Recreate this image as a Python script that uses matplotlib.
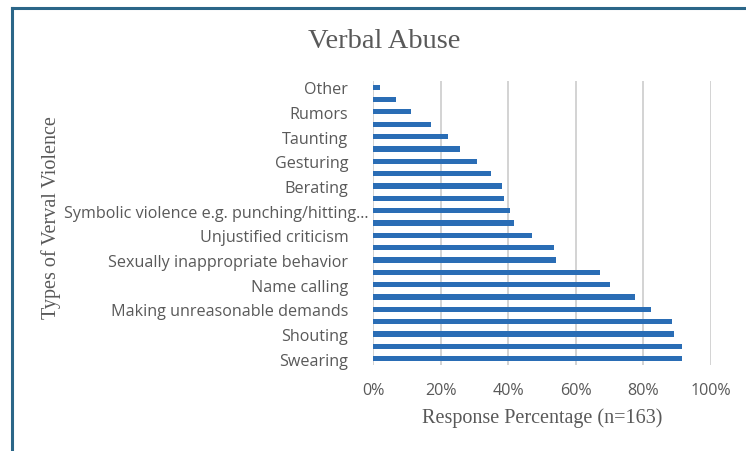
import matplotlib.pyplot as plt
from matplotlib.lines import Line2D
from matplotlib.ticker import PercentFormatter
import matplotlib.transforms as mtransforms

# bottom to top, every other bar carries a label in the original
labels = ['Swearing', '', 'Shouting', '', 'Making unreasonable demands', '',
          'Name calling', '', 'Sexually inappropriate behavior', '',
          'Unjustified criticism', '', 'Symbolic violence e.g. punching/hitting...', '',
          'Berating', '', 'Gesturing', '', 'Taunting', '', 'Rumors', '', 'Other']
values = [91.5, 91.5, 89.0, 88.5, 82.3, 77.5, 70.1, 67.0, 54.2, 53.6, 46.9, 41.7,
          40.5, 38.6, 38.0, 35.0, 30.6, 25.8, 22.0, 17.2, 11.1, 6.7, 2.0]
xticks = [0, 20, 40, 60, 80, 100]

gray = '#595959'
fig = plt.figure(figsize=(7.46, 4.52), dpi=100)
ax = fig.add_axes([0.5004, 0.1905, 0.4527, 0.628])

pos = list(range(len(values)))
ax.barh(pos, values, height=0.42, color='#2a6db5', zorder=3)
ax.set_xlim(0, 100)
ax.set_ylim(-0.5, len(values) - 0.5)
ax.set_xticks(xticks)
ax.xaxis.set_major_formatter(PercentFormatter(decimals=0))
ax.set_yticks(pos[::2])
ax.set_yticklabels(labels[::2])
ax.grid(axis='x', color='#d0d0d0', linewidth=1.3, zorder=0)
for s in ax.spines.values():
    s.set_visible(False)
ax.tick_params(axis='both', length=0, colors=gray)
ax.tick_params(axis='y', pad=18)
ax.tick_params(axis='x', pad=12)
for lbl in ax.get_yticklabels() + ax.get_xticklabels():
    lbl.set_fontfamily('Open Sans')
    lbl.set_fontsize(11.6)
# the long label runs past the others, like in Excel
for lbl in ax.get_yticklabels():
    if lbl.get_text().startswith('Symbolic'):
        off = mtransforms.ScaledTranslation(20 / 100, 0, fig.dpi_scale_trans)
        lbl.set_transform(lbl.get_transform() + off)

fig.text(0.515, 0.909, 'Verbal Abuse', ha='center', va='center',
         family='Liberation Serif', fontsize=20.5, color=gray)
ax.set_xlabel('Response Percentage (n=163)', family='Liberation Serif',
              fontsize=14.5, color=gray, labelpad=7)
fig.text(0.068, 0.518, 'Types of Verval Violence', rotation=90, ha='center', va='center',
         family='Liberation Serif', fontsize=14.5, color=gray)

# frame around the chart area
fig.add_artist(Line2D([0.016, 1.0], [0.979, 0.979], color='#2b6688', linewidth=2.2))
fig.add_artist(Line2D([0.016, 0.016], [0.0, 0.979], color='#2b6688', linewidth=2.2))

fig.savefig('out.png', dpi=100)
